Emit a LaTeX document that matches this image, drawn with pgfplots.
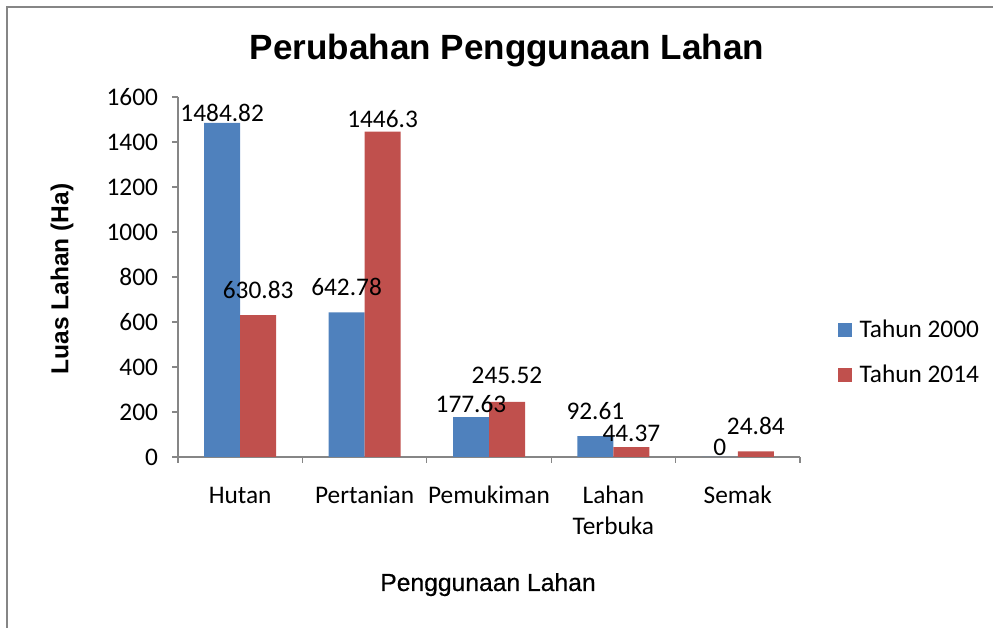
\documentclass[border=0pt]{standalone}
\usepackage{fontspec}
\setmainfont{Carlito}
\newfontfamily\arialfont{Liberation Sans}
\newfontfamily\arialmed[FakeBold=0.5]{Liberation Sans}
\usepackage{pgfplots}
\pgfplotsset{compat=1.18}
\usepackage{pgfplotstable}
\definecolor{blueA}{HTML}{4F81BD}
\definecolor{redA}{HTML}{C0504D}
\definecolor{axgray}{HTML}{868686}
\definecolor{framegray}{HTML}{868686}

\pgfplotstableread{
x y off lab
0 1484.82 10 1484.82
1 642.78 25 642.78
2 177.63 13 177.63
3 92.61 25 92.61
4 0 10 0
}\tA
\pgfplotstableread{
x y off lab
0 630.83 25 630.83
1 1446.3 13 1446.3
2 245.52 26 245.52
3 44.37 14 44.37
4 24.84 25 24.84
}\tB

\begin{document}
\begin{tikzpicture}[x=0.75pt,y=0.75pt]
\path[use as bounding box] (0,0) rectangle (993,628);
\draw[framegray, line width=1.5pt] (7,0) -- (7,621) -- (993,621);
\begin{axis}[
  at={(133.5pt,128.25pt)}, anchor=south west,
  scale only axis, width=466.5pt, height=270pt,
  xmin=-0.5, xmax=4.5, ymin=0, ymax=1600,
  ybar=0pt, bar width=27pt,
  axis lines=left,
  axis line style={-, draw=axgray, line width=0.8pt},
  tick style={draw=axgray, line width=0.8pt},
  tick align=outside, major tick length=4.5pt,
  ytick={0,200,...,1600},
  xtick={-0.5,0.5,...,4.5},
  x tick label as interval,
  xticklabels={{\strut Hutan},{\strut Pertanian},{\strut Pemukiman},{\strut Lahan\\\strut Terbuka},{\strut Semak}},
  x tick label style={align=center, anchor=north, font=\fontsize{19}{23}\selectfont, yshift=-11pt},
  y tick label style={font=\fontsize{19}{22}\selectfont, xshift=-7pt},
  /pgf/number format/assume math mode=true,
  /pgf/number format/1000 sep={},
  point meta=explicit symbolic,
  nodes near coords={\pgfplotspointmeta},
  every node near coord/.append style={font=\fontsize{19}{22}\selectfont, anchor=center, yshift=\myoff*0.75pt, inner sep=0pt},
  visualization depends on={\thisrow{off} \as \myoff},
  legend style={at={(axis description cs:1.061,0.388)}, anchor=north west, draw=none, fill=none,
    font=\fontsize{19}{22}\selectfont, row sep=15pt, column sep=4pt, inner sep=0pt},
  legend cell align=left,
]
\addplot[fill=blueA, draw=none, legend image code/.code={\fill[blueA] (0pt,-5pt) rectangle (10pt,5pt);}] table[x=x, y=y, meta=lab] {\tA};
\addlegendentry{Tahun 2000}
\addplot[fill=redA, draw=none, legend image code/.code={\fill[redA] (0pt,-5pt) rectangle (10pt,5pt);}] table[x=x, y=y, meta=lab] {\tB};
\addlegendentry{Tahun 2014}
\end{axis}
\node[anchor=base, font=\arialfont\bfseries\fontsize{26.3}{30}\selectfont] at (507,568) {Perubahan Penggunaan Lahan};
\node[rotate=90, font=\arialfont\bfseries\fontsize{18.4}{21}\selectfont] at (62,349) {Luas Lahan (Ha)};
\node[anchor=base, font=\arialmed\fontsize{18.5}{22}\selectfont] at (488,37) {Penggunaan Lahan};
\end{tikzpicture}
\end{document}
